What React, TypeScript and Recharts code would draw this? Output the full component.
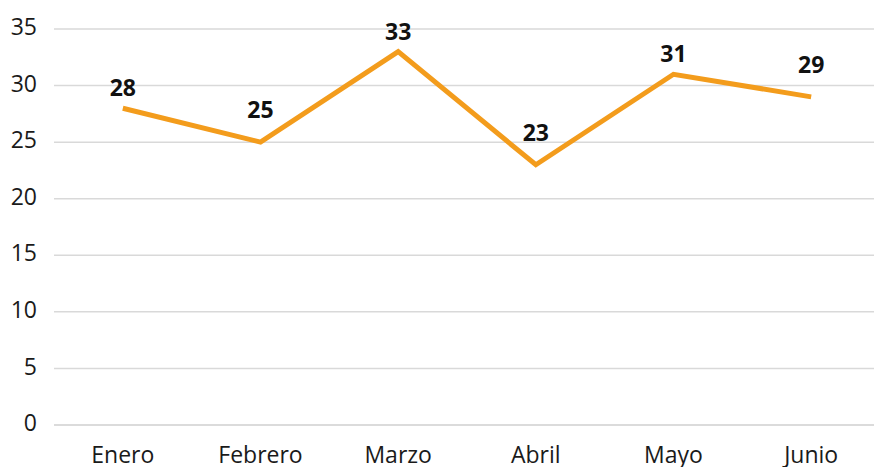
import { LineChart, Line, XAxis, YAxis, CartesianGrid, LabelList } from "recharts";

const months = ["Enero", "Febrero", "Marzo", "Abril", "Mayo", "Junio"];
const values = [28, 25, 33, 23, 31, 29];
const yTicks = [0, 5, 10, 15, 20, 25, 30, 35];

const data = months.map((m, i) => ({ name: m, value: values[i] }));

const FONT = "'Open Sans', 'Noto Sans', sans-serif";

// Put the label higher when a neighbour sits above the point, so the line doesn't cross it
function PointLabel(props: any) {
  const { x, y, index, value } = props;
  const prev = values[index - 1];
  const next = values[index + 1];
  const higherNeighbour = (prev !== undefined && prev > value) || (next !== undefined && next > value);
  const gap = higherNeighbour ? 24 : 12;
  return (
    <text
      x={x}
      y={y - gap}
      textAnchor="middle"
      fontFamily={FONT}
      fontWeight={700}
      fontSize={23}
      fill="#111"
    >
      {value}
    </text>
  );
}

export default function App() {
  return (
    <div style={{ position: "absolute", left: 0, top: 0, width: 874, height: 467, overflow: "hidden", background: "#fff" }}>
      <LineChart width={880} height={467} data={data} margin={{ top: 29, right: 0, bottom: 0, left: 0 }}>
        <CartesianGrid vertical={false} stroke="#d9d9d9" strokeWidth={1.5} />
        <XAxis
          dataKey="name"
          scale="band"
          axisLine={{ stroke: "#d9d9d9", strokeWidth: 1.5 }}
          tickLine={false}
          tickSize={0}
          tickMargin={22}
          height={42}
          interval={0}
          tick={{ fill: "#1a1a1a", fontSize: 23, fontFamily: FONT }}
        />
        <YAxis
          domain={[0, 35]}
          ticks={yTicks}
          width={54}
          axisLine={false}
          tickLine={false}
          tickSize={0}
          tickMargin={17}
          tick={{ fill: "#1a1a1a", fontSize: 23, fontFamily: FONT, dy: -2 }}
        />
        <Line
          type="linear"
          dataKey="value"
          stroke="#F39C1C"
          strokeWidth={5}
          dot={false}
          isAnimationActive={false}
        >
          <LabelList dataKey="value" content={<PointLabel />} />
        </Line>
      </LineChart>
    </div>
  );
}
